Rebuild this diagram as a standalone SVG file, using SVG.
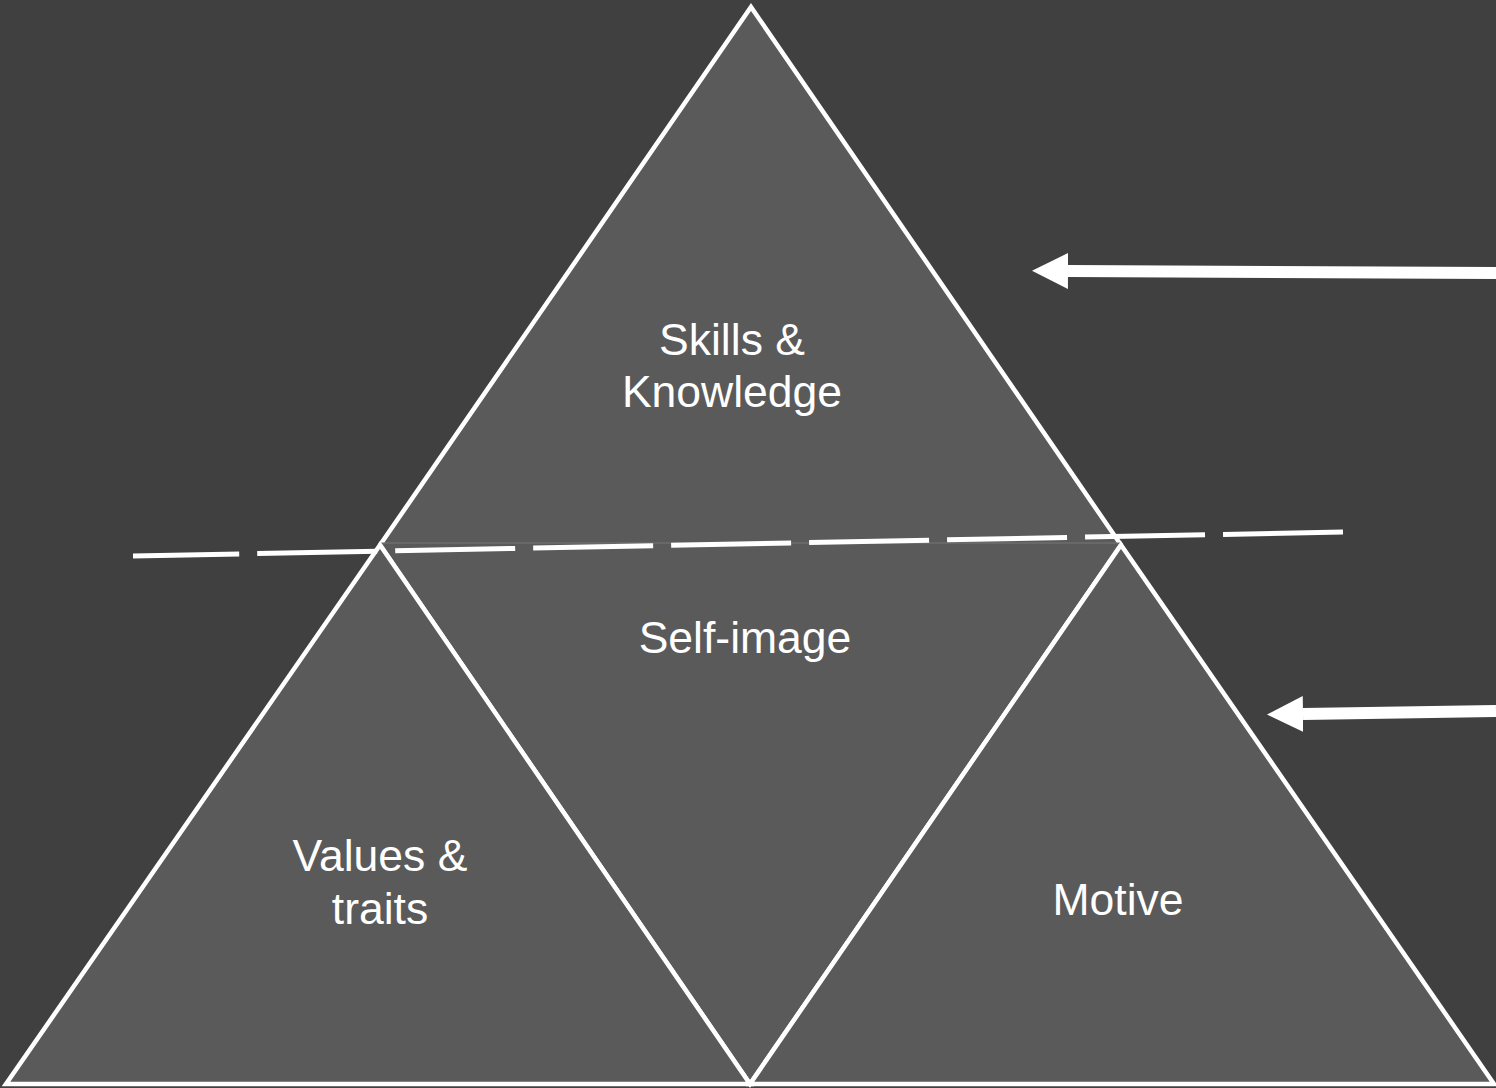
<svg xmlns="http://www.w3.org/2000/svg" width="1496" height="1088" viewBox="0 0 1496 1088">
<style>
.tri{fill:#5a5a5a;stroke:#ffffff;stroke-width:4.5;stroke-linejoin:miter}
.edge{fill:none;stroke:#ffffff;stroke-width:4.5}
.lbl{font-family:"Liberation Sans",Arial,sans-serif;font-size:44.5px;fill:#ffffff;text-anchor:middle}
.arr{stroke:#ffffff;stroke-width:12;fill:none}
.dash{stroke:#ffffff;stroke-width:5;stroke-dasharray:120 18;fill:none}
</style>
<defs>
<marker id="head" markerUnits="userSpaceOnUse" viewBox="0 0 36 36" markerWidth="36" markerHeight="36" refX="0" refY="18" orient="auto">
<path d="M0,0 L36,18 L0,36 z" fill="#ffffff"/>
</marker>
</defs>
<rect width="1496" height="1088" fill="#404040"/>
<g id="skills">
<polygon points="751,7 380,543 1121,543" fill="#5a5a5a"/>
<polyline class="edge" points="380,545 751,7 1121,545"/>
<text class="lbl" x="732" y="355">Skills &amp;</text>
<text class="lbl" x="732" y="407">Knowledge</text>
</g>
<g id="self-image">
<polygon points="380,543 1121,543 750,1084" fill="#5a5a5a"/>
<line x1="380" y1="543" x2="1121" y2="543" stroke="#777777" stroke-width="1"/>
<polyline class="edge" points="380,545 750,1084 1121,545"/>
<text class="lbl" x="745" y="653">Self-image</text>
</g>
<g id="values">
<polygon class="tri" points="380,545 6,1084 750,1084"/>
<text class="lbl" x="380" y="871">Values &amp;</text>
<text class="lbl" x="380" y="924">traits</text>
</g>
<g id="motive">
<polygon class="tri" points="1121,545 750,1084 1494,1084"/>
<text class="lbl" x="1118" y="915">Motive</text>
</g>
<g id="connectors">
<line class="dash" x1="1343" y1="532" x2="133" y2="556"/>
<line class="arr" x1="1496" y1="273" x2="1068" y2="271" marker-end="url(#head)"/>
<line class="arr" x1="1496" y1="711" x2="1303" y2="714" marker-end="url(#head)"/>
</g>
</svg>
